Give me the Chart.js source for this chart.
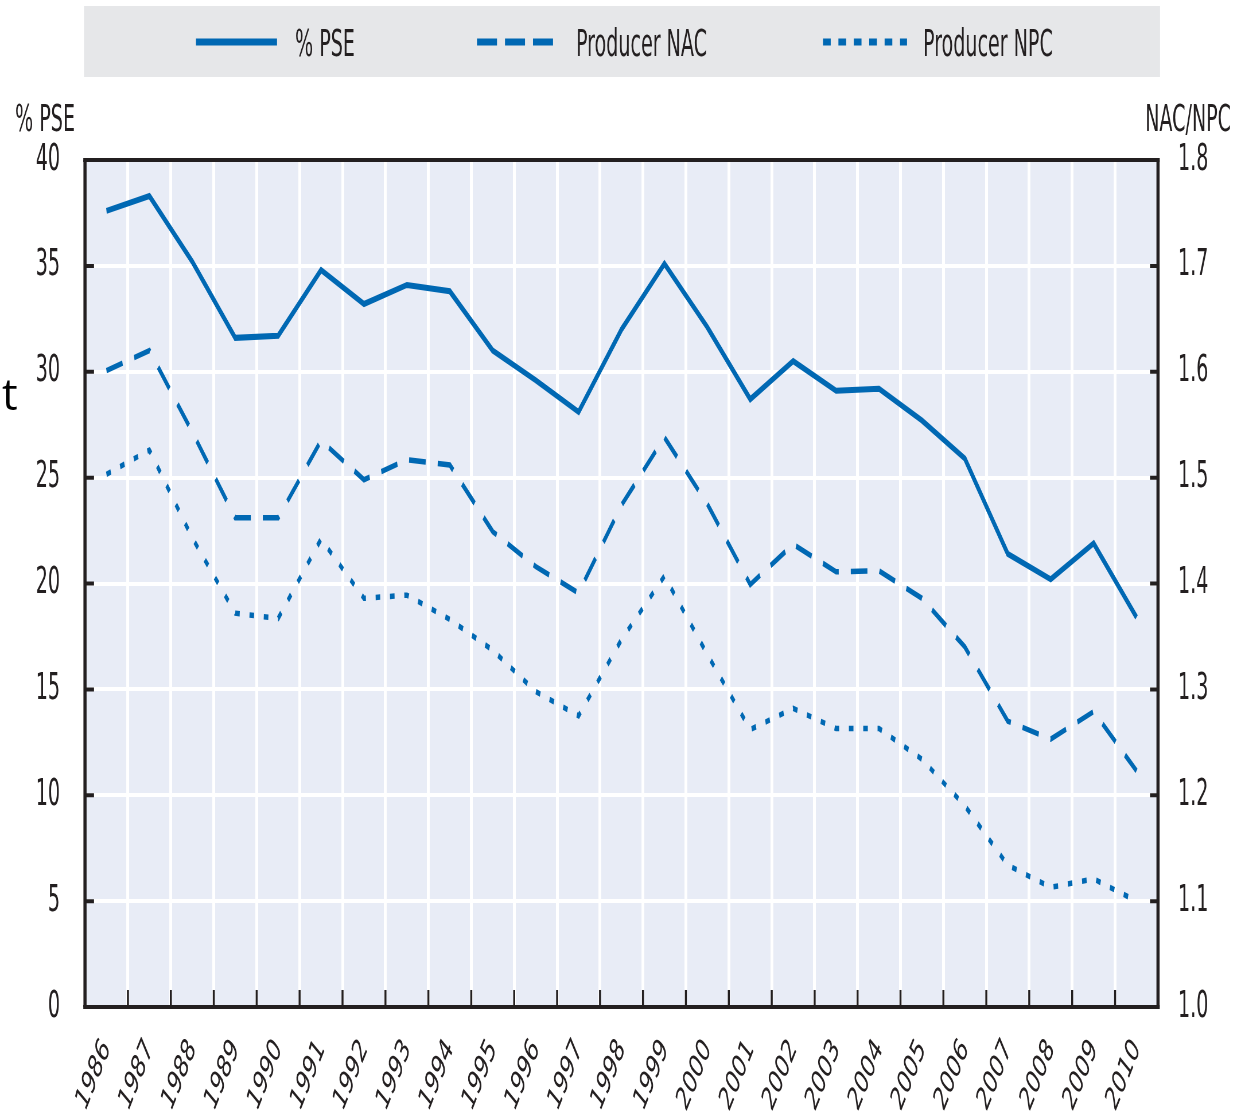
<!DOCTYPE html>
<html>
<head>
<meta charset="utf-8">
<script src="https://cdn.jsdelivr.net/npm/chart.js"></script>
<style>
  body { margin: 0; background: #fff; }
  #wrap { position: relative; width: 1245px; height: 1116px; }
  /* canvas is drawn wider and squeezed to the window width, like the condensed look of the original */
  #chart { display: block; width: 1245px; height: 1116px; }
  #stray { position: absolute; left: 2px; top: 371px; font: 44px/44px 'Open Sans', sans-serif; color: #000; }
</style>
</head>
<body>
<div id="wrap">
  <canvas id="chart" width="2170" height="1116" style="width:1245px;height:1116px"></canvas>
  <div id="stray">t</div>
</div>
<script>
// squeeze factor between canvas pixels and screen pixels
const CW = 2170;
const SX = 1245 / CW;

const years = ['1986', '1987', '1988', '1989', '1990', '1991', '1992', '1993', '1994', '1995',
  '1996', '1997', '1998', '1999', '2000', '2001', '2002', '2003', '2004', '2005',
  '2006', '2007', '2008', '2009', '2010'];

// % PSE, left axis
const pse = [37.6, 38.3, 35.2, 31.6, 31.7, 34.8, 33.2, 34.1, 33.8, 31.0,
  29.6, 28.1, 32.0, 35.1, 32.1, 28.7, 30.5, 29.1, 29.2, 27.7,
  25.9, 21.4, 20.2, 21.9, 18.4];

// Producer NAC and NPC, right axis
const nac = [1.601, 1.620, 1.543, 1.462, 1.462, 1.535, 1.498, 1.517, 1.512, 1.449,
  1.416, 1.391, 1.474, 1.538, 1.475, 1.399, 1.437, 1.411, 1.412, 1.386,
  1.340, 1.270, 1.253, 1.279, 1.223];
const npc = [1.503, 1.526, 1.443, 1.372, 1.367, 1.442, 1.386, 1.389, 1.366, 1.337,
  1.298, 1.275, 1.347, 1.407, 1.333, 1.262, 1.282, 1.263, 1.263, 1.234,
  1.190, 1.134, 1.113, 1.121, 1.100];

const pseTicks = [0, 40, 5];       // min, max, step
const ratioTicks = [1.0, 1.8, 0.1];

const BLUE = '#0068b3';
const INK = '#231f20';
const FONT = "'Liberation Sans Narrow', 'DejaVu Sans Condensed', 'Arial Narrow', sans-serif";

// legend geometry in screen pixels
const legendItems = [
  { label: '% PSE', dash: [], x: 196, text: 295, len: 81 },
  { label: 'Producer NAC', dash: [20, 8], x: 477, text: 576, len: 78 },
  { label: 'Producer NPC', dash: [7.7, 7.7], x: 823, text: 923, len: 84 }
];

const frame = {
  id: 'frame',
  beforeDraw(chart) {
    const { ctx, chartArea: a } = chart;
    ctx.save();
    // legend box
    ctx.fillStyle = '#e6e7e9';
    ctx.fillRect(84 / SX, 6, (1160 - 84) / SX, 71);
    // plot background
    ctx.fillStyle = '#e8ecf6';
    ctx.fillRect(a.left, a.top, a.right - a.left, a.bottom - a.top);
    ctx.restore();
  },
  afterDatasetsDraw(chart) {
    const { ctx, chartArea: a, scales } = chart;
    ctx.save();
    ctx.strokeStyle = INK;
    // top and bottom edges
    ctx.lineWidth = 4;
    ctx.beginPath();
    ctx.moveTo(a.left - 3, a.top); ctx.lineTo(a.right + 3, a.top);
    ctx.moveTo(a.left - 3, a.bottom); ctx.lineTo(a.right + 3, a.bottom);
    ctx.stroke();
    // left and right edges
    ctx.lineWidth = 5.5;
    ctx.beginPath();
    ctx.moveTo(a.left, a.top); ctx.lineTo(a.left, a.bottom);
    ctx.moveTo(a.right, a.top); ctx.lineTo(a.right, a.bottom);
    ctx.stroke();

    // inner tick marks on both value axes
    ctx.lineWidth = 4;
    ctx.beginPath();
    scales.y.ticks.forEach(t => {
      const py = scales.y.getPixelForValue(t.value);
      ctx.moveTo(a.left, py); ctx.lineTo(a.left + 9 / SX, py);
    });
    scales.y1.ticks.forEach(t => {
      const py = scales.y1.getPixelForValue(t.value);
      ctx.moveTo(a.right, py); ctx.lineTo(a.right - 8 / SX, py);
    });
    ctx.stroke();

    // inner tick marks at the year boundaries
    ctx.lineWidth = 3.5;
    ctx.beginPath();
    const step = (a.right - a.left) / years.length;
    for (let i = 1; i < years.length; i++) {
      const px = a.left + step * i;
      ctx.moveTo(px, a.bottom); ctx.lineTo(px, a.bottom - 17);
    }
    ctx.stroke();
    ctx.restore();
  },
  afterDraw(chart) {
    const { ctx } = chart;
    ctx.save();
    ctx.fillStyle = INK;
    ctx.font = '37px ' + FONT;
    ctx.textBaseline = 'alphabetic';

    // axis titles
    ctx.textAlign = 'center';
    ctx.fillText('% PSE', 45 / SX, 131);
    ctx.textAlign = 'right';
    ctx.fillText('NAC/NPC', 1231 / SX, 131);

    // legend
    ctx.textAlign = 'left';
    legendItems.forEach(it => {
      ctx.strokeStyle = BLUE;
      ctx.lineWidth = 7;
      ctx.setLineDash(it.dash.map(d => d / SX));
      ctx.beginPath();
      ctx.moveTo(it.x / SX, 42);
      ctx.lineTo((it.x + it.len) / SX, 42);
      ctx.stroke();
      ctx.fillText(it.label, it.text / SX, 56);
    });
    ctx.restore();
  }
};

new Chart(document.getElementById('chart'), {
  type: 'line',
  data: {
    labels: years,
    datasets: [
      { label: '% PSE', data: pse, yAxisID: 'y', borderColor: BLUE, borderWidth: 6 },
      { label: 'Producer NAC', data: nac, yAxisID: 'y1', borderColor: BLUE, borderWidth: 5.5, borderDash: [29, 21] },
      { label: 'Producer NPC', data: npc, yAxisID: 'y1', borderColor: BLUE, borderWidth: 5.5, borderDash: [8, 17] }
    ]
  },
  options: {
    responsive: false,
    devicePixelRatio: 1,
    animation: false,
    events: [],
    elements: { point: { radius: 0 }, line: { tension: 0 } },
    layout: { padding: { top: 160, left: 0, right: 0, bottom: 0 } },
    plugins: { legend: { display: false }, tooltip: { enabled: false } },
    scales: {
      x: {
        offset: true,
        grid: { offset: true, color: '#ffffff', lineWidth: 5, drawTicks: false },
        border: { display: false },
        ticks: {
          autoSkip: false, minRotation: 55, maxRotation: 55, padding: 25,
          color: INK, font: { family: FONT, size: 34 }
        },
        afterFit: s => { s.height = 109; }
      },
      y: {
        position: 'left',
        min: pseTicks[0], max: pseTicks[1],
        grid: { color: '#ffffff', lineWidth: 4, drawTicks: false },
        border: { display: false },
        ticks: { stepSize: pseTicks[2], padding: 25 / SX, color: INK, font: { family: FONT, size: 37 } },
        afterFit: s => { s.width = 85 / SX; }
      },
      y1: {
        position: 'right',
        min: ratioTicks[0], max: ratioTicks[1],
        grid: { display: false, drawTicks: false },
        border: { display: false },
        ticks: {
          stepSize: ratioTicks[2], padding: 20 / SX, color: INK, font: { family: FONT, size: 37 },
          callback: v => Number(v).toFixed(1)
        },
        afterFit: s => { s.width = CW - 1158 / SX; }
      }
    }
  },
  plugins: [frame]
});
</script>
</body>
</html>
